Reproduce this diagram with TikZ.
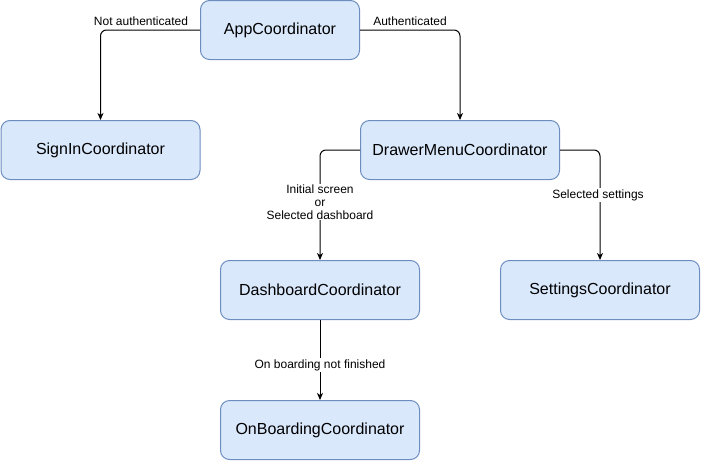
\documentclass[tikz,border=0pt]{standalone}
\usepackage{fontspec}
\setmainfont{Liberation Sans}
\usetikzlibrary{arrows.meta}
\definecolor{boxfill}{HTML}{DAE8FC}
\definecolor{boxline}{HTML}{6C8EBF}
\begin{document}
\begin{tikzpicture}[x=1pt,y=-1pt,
  coord/.style={draw=boxline, fill=boxfill, line width=1pt, rounded corners=9pt,
    minimum width=199pt, minimum height=59pt, inner sep=0pt, font=\fontsize{16}{18}\selectfont},
  edgelbl/.style={font=\fontsize{12}{14}\selectfont, inner sep=1pt, align=center},
  link/.style={draw=black, line width=1pt, rounded corners=6pt, -{Stealth[length=7pt,width=6pt,inset=2pt]}}
]
\useasboundingbox (0,0) rectangle (701,461);
\node[coord, minimum width=159pt] (app) at (280,30) {AppCoordinator};
\node[coord] (signin) at (100.5,150) {SignInCoordinator};
\node[coord] (drawer) at (460,150) {DrawerMenuCoordinator};
\node[coord] (dash) at (320,290) {DashboardCoordinator};
\node[coord] (settings) at (600,290) {SettingsCoordinator};
\node[coord] (onb) at (320,430) {OnBoardingCoordinator};

\draw[link] (app.west) -| (signin.north);
\draw[link] (app.east) -| (drawer.north);
\draw[link] (drawer.west) -| (dash.north);
\draw[link] (drawer.east) -| (settings.north);
\draw[link] (dash.south) -- (onb.north);

\node[edgelbl] (l1) at (141,21) {Not authenticated};
\node[edgelbl] (l2) at (410,21) {Authenticated};
\node[edgelbl, fill=white] (l3) at (320,202) {Initial screen\\[-1pt]or\\[-1pt]Selected dashboard};
\node[edgelbl, fill=white] (l4) at (598,195) {Selected settings};
\node[edgelbl, fill=white] (l5) at (320,365) {On boarding not finished};
\end{tikzpicture}
\end{document}
